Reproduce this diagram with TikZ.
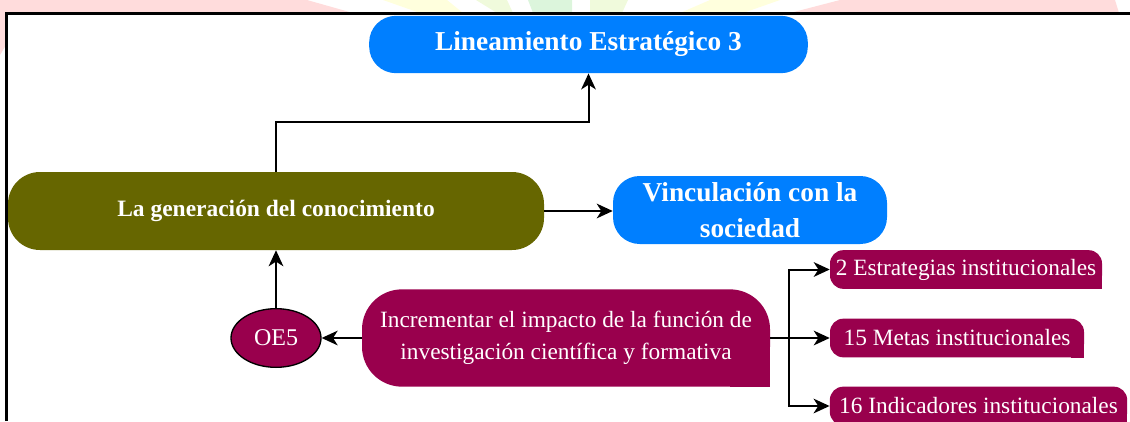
\documentclass[tikz,border=0pt]{standalone}
\usepackage{fontspec}
\setmainfont{Liberation Serif}
\usetikzlibrary{arrows.meta,shapes.geometric,backgrounds}

\definecolor{azul}{HTML}{007FFF}
\definecolor{oliva}{HTML}{666600}
\definecolor{morado}{HTML}{99004D}
\definecolor{rosa}{HTML}{FFDCDC}
\definecolor{amarillo}{HTML}{FFFFDD}
\definecolor{verde}{HTML}{DCF5DC}
\definecolor{verdeclaro}{HTML}{F0FADC}

\begin{document}
\begin{tikzpicture}[x=0.75pt,y=-0.75pt,
        flecha/.style={-{Stealth[length=12pt,width=11pt,inset=3.5pt]},line width=1.5pt},
        caja/.style={text=white,inner sep=0pt,align=center},
        azulbox/.style={caja,fill=azul,rounded corners=20pt,font=\bfseries\fontsize{20.5}{27}\selectfont},
        olivabox/.style={caja,fill=oliva,rounded corners=24pt,font=\bfseries\fontsize{17.6}{22}\selectfont},
        moradobox/.style={caja,fill=morado,rounded corners=10pt,font=\fontsize{17.5}{24}\selectfont},
        oe/.style={caja,ellipse,draw=black,line width=1pt,fill=morado,font=\fontsize{18}{22}\selectfont}]
        \useasboundingbox (0,0) rectangle (1130,421);

        % marca de agua
        \fill[rosa] (0,0) -- (307,0) -- (353,13) -- (0,13) -- cycle;
        \fill[rosa] (0,13) -- (6,13) -- (6,45) -- (0,55) -- cycle;
        \fill[amarillo] (383,0) -- (447,0) -- (463,13) -- (420,13) -- cycle;
        \fill[verdeclaro] (476,0) -- (507,0) -- (513,13) -- (497,13) -- cycle;
        \fill[verde] (528,0) -- (572,0) -- (572,13) -- (533,13) -- cycle;
        \fill[verdeclaro] (590,0) -- (628,0) -- (622,13) -- (590,13) -- cycle;
        \fill[amarillo] (710,0) -- (780,0) -- (743,13) -- (680,13) -- cycle;
        \fill[rosa] (840,0) -- (1115,0) -- (1119,13) -- (790,13) -- cycle;

        % marco
        \draw[line width=1.6pt] (6.5,421) -- (6.5,13.5) -- (1130,13.5);

        \node[azulbox,minimum width=329pt,minimum height=43pt] (lin) at (588.5,44.5) {Lineamiento Estratégico 3};
        \node[olivabox,minimum width=402pt,minimum height=58.5pt] (gen) at (276,211) {La generación del conocimiento};
        \node[azulbox,minimum width=205.5pt,minimum height=51pt] (vinc) at (750,210) {Vinculación con la\\sociedad};
        \node[oe,minimum width=67.5pt,minimum height=44pt] (oe5) at (276,338) {OE5};
        \node[moradobox,rounded corners=30pt,minimum width=306pt,minimum height=73pt] (inc) at (566,338) {Incrementar el impacto de la función de\\investigación científica y formativa};
        \node[moradobox,minimum width=204pt,minimum height=29pt] (est) at (966,269.5) {2 Estrategias institucionales};
        \node[moradobox,minimum width=190.5pt,minimum height=29pt] (met) at (957,338) {15 Metas institucionales};
        \node[moradobox,minimum width=223pt,minimum height=29pt] (ind) at (978.5,406) {16 Indicadores institucionales};

        % esquina recta abajo a la derecha
        \begin{scope}[on background layer]
            \fill[morado] (inc.south east) rectangle ([xshift=-30pt,yshift=30pt]inc.south east);
            \fill[morado] (est.south east) rectangle ([xshift=-10pt,yshift=10pt]est.south east);
            \fill[morado] (met.south east) rectangle ([xshift=-10pt,yshift=10pt]met.south east);
            \fill[morado] (ind.south east) rectangle ([xshift=-10pt,yshift=10pt]ind.south east);
        \end{scope}

        \draw[flecha] (gen.north) -- ++(0,-50) -| (lin.south);
        \draw[flecha] (gen.east) -- (gen.east -| vinc.west);
        \draw[flecha] (oe5.north) -- (gen.south);
        \draw[flecha] (inc.west) -- (oe5.east);
        \coordinate (rama) at ([xshift=14pt]inc.east);
        \draw[line width=1.5pt] (inc.east) -- (rama);
        \draw[flecha] (rama) |- (est.west);
        \draw[flecha] (rama) -- (met.west);
        \draw[flecha] (rama) |- (ind.west);
    \end{tikzpicture}
\end{document}
